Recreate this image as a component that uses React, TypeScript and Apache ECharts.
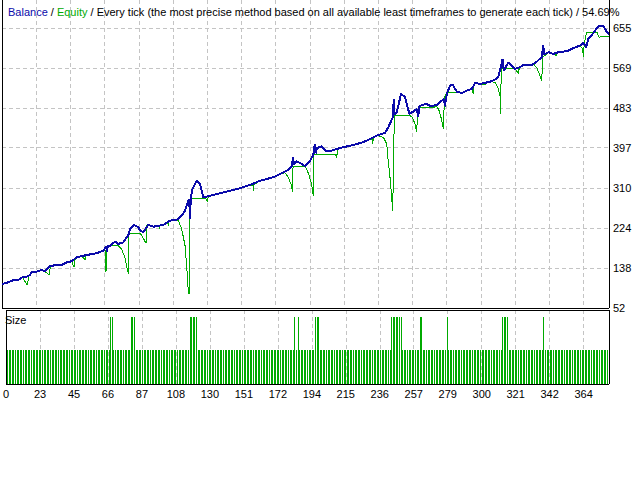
import React, { useEffect, useRef } from "react";
import * as echarts from "echarts";

const BLUE = "#0a0aaa";
const GREEN = "#00aa00";
const GRID_GRAY = "#c4c4c4";
const FONT = "'Liberation Sans', Arial, sans-serif";

const TITLE_BALANCE = "Balance";
const TITLE_EQUITY = "Equity";
const TITLE_REST = " / Every tick (the most precise method based on all available least timeframes to generate each tick) / 54.69%";
const SIZE_LABEL = "Size";

const Y_TICKS = [52, 138, 224, 310, 397, 483, 569, 655];
const X_TICK_LABELS = [0, 23, 45, 66, 87, 108, 130, 151, 172, 194, 215, 236, 257, 279, 300, 321, 342, 364];

// balance curve: [trade number, value]
const BALANCE: [number, number][] = [
  [0, 104], [3, 106], [7, 112], [10, 112], [13, 119], [15, 119], [17.5, 123], [18.6, 130], [21.7, 130],
  [24.9, 134.5], [26.9, 130.5], [30.1, 143], [37.4, 144.6], [40.5, 150.4], [43.6, 152.6], [46.8, 161.2],
  [53, 166], [59.3, 170], [63.4, 175.4], [65.4, 185], [65.8, 172], [66.2, 185], [67.6, 186], [70.8, 195],
  [72.8, 190], [76, 193.5], [79.1, 209], [80.2, 222], [82.8, 230.7], [85.3, 225.8], [86.4, 218.5],
  [88.5, 215], [91.6, 230.7], [94.7, 227], [101, 230.7], [105.2, 240], [109.4, 242], [112.5, 251],
  [114.6, 261.5], [116, 276], [117.2, 287], [117.7, 243], [118.2, 290], [119.2, 308], [121.9, 326],
  [124, 319], [126, 290.4], [129.2, 292.6], [136.5, 299], [142.8, 304.6], [149, 309.8], [155.3, 317],
  [161.6, 326], [169.9, 333.5], [174.1, 340.6], [178.3, 347.7], [181.4, 356.3], [182.2, 376.5],
  [182.8, 360], [184, 368], [186.6, 364.3], [189.7, 357.2], [192.9, 369.2], [194.9, 381.5], [195.8, 405],
  [196.3, 385], [197.1, 396], [200.2, 400], [202.3, 391], [206.4, 391], [209.6, 394.4], [213.7, 398],
  [220, 403], [226.2, 409], [231.5, 417.5], [234.6, 423], [239.8, 429], [241.9, 441], [244.6, 462.7],
  [245.3, 502], [245.8, 468], [247.2, 473.5], [249.8, 513], [252.3, 506], [255, 470], [257.5, 475],
  [259.7, 480.6], [260.5, 462.7], [261.2, 485], [262.8, 489], [265.9, 491.3], [268.4, 486.4],
  [272.2, 489], [275.3, 498.5], [276.8, 502], [277.2, 486], [278.5, 513], [280.5, 530.7], [282.2, 532.3],
  [283.7, 523.6], [284.7, 517.8], [287.9, 515], [291, 520], [294.1, 523.6], [296.2, 536.6],
  [299.3, 534.4], [302.4, 536.6], [305.6, 539.4], [308.7, 543.7], [310.8, 551], [312.3, 570.4],
  [313.3, 588], [314.2, 563], [317, 581], [319.2, 573.8], [321.2, 566.7], [324.4, 570.4], [326.4, 575.3],
  [331.7, 575.3], [334.8, 582.4], [337.9, 592], [338.8, 617], [339.4, 598], [342.1, 602.7], [345.2, 599],
  [348.3, 602.7], [351.5, 604], [354.6, 606], [357.7, 611.3], [361.9, 617], [364, 622.7], [365.7, 613.5],
  [367.1, 631.3], [370.3, 644.2], [373.4, 658.7], [376.5, 658.7], [378.2, 649], [380, 640],
];

// equity curve: [trade number, value]
const EQUITY: [number, number][] = [
  [0, 104], [3, 106], [7, 112], [10, 112], [13, 117], [15.8, 101.5], [17.1, 125], [17.5, 123], [18.6, 130],
  [21.7, 130], [24.9, 134.5], [26.9, 130.5], [29.8, 123], [30.2, 143], [37.4, 144.6], [40.5, 150.4],
  [43.6, 152.6], [45.1, 139.6], [45.5, 155], [46.8, 161.2], [50, 163], [52, 156], [52.5, 166],
  [59.3, 170], [63.4, 175.4], [64.6, 176], [65.1, 129], [65.5, 185], [66.6, 186], [72.8, 186],
  [75, 178], [77, 160], [79.1, 125], [79.3, 209], [80.2, 213], [86.4, 213], [88, 205], [90.2, 191],
  [90.5, 230.7], [94.7, 227], [98.3, 228], [98.5, 222], [98.8, 229], [101, 230.7], [104, 234],
  [104.1, 229], [104.5, 237], [105.2, 240], [109.4, 242], [110.4, 240], [112.5, 222], [114.6, 186],
  [115.6, 143], [116.7, 84], [117.5, 84], [117.7, 286.7], [128, 286.7], [128.6, 281], [129.2, 292.6],
  [136.5, 299], [142.8, 304.6], [149, 309.8], [155.3, 317], [157.2, 315], [157.4, 303], [157.7, 317],
  [161.6, 326], [169.9, 333.5], [174.1, 340.6], [177.2, 343], [179, 335], [181, 318], [182, 301],
  [182.2, 357], [184.5, 357.2], [189.7, 357.2], [190.8, 351], [192.5, 335], [194, 315], [194.9, 293],
  [195.3, 382], [206.4, 382], [208.5, 382], [209.6, 376.5], [210, 394], [213.7, 398], [220, 403],
  [226.2, 409], [231.5, 417.5], [232.1, 405], [232.5, 419], [234.6, 423], [236.7, 422], [239, 418],
  [240.9, 405], [241.3, 384], [243, 330], [244.6, 261.5], [245.6, 466], [255.5, 466], [257, 462],
  [258.5, 448], [259.7, 430], [260, 470], [261.5, 484], [270.1, 484], [272.2, 486], [273.5, 478],
  [275, 460], [276.3, 437.5], [277, 507], [278.5, 515], [283.7, 515], [287.9, 515], [291, 520],
  [294.1, 523.6], [295, 513], [295.4, 530], [296.2, 536.6], [299.3, 534.4], [302.4, 532], [302.8, 536.6],
  [305.6, 539.4], [308.7, 538], [310.5, 525], [311.8, 509], [312.2, 470], [312.5, 566.7], [316, 566.7],
  [321.2, 566.7], [323.4, 556], [323.8, 570], [326.4, 575.3], [331.7, 575.3], [332.7, 577.5], [335, 568],
  [337, 550], [337.9, 540], [338.4, 591], [342.1, 602.7], [345.2, 599], [347.3, 595.3], [347.6, 602],
  [351.5, 604], [354.6, 606], [357.7, 611.3], [361.9, 617], [363.5, 610], [364, 592], [364.5, 622.7],
  [366.1, 645.7], [372.4, 645.7], [374, 633], [374.5, 637], [380, 637],
];

const TRADE_COUNT = 379;
const BASE_LOT = 0.1;
const BIG_LOT = 0.2;
const BIG_LOT_TRADES = [66, 67, 79, 80, 81, 116, 117, 118, 119, 120, 182, 184, 195, 196, 197, 243, 244, 245, 246, 247, 248, 249, 261, 262, 278, 313, 314, 315, 316, 339];

const X_MAX = 380;

export default function App() {
  const ref = useRef<HTMLDivElement>(null);

  useEffect(() => {
    if (!ref.current) return;
    const chart = echarts.init(ref.current, undefined, { renderer: "svg" });

    const lastLabel = X_TICK_LABELS[X_TICK_LABELS.length - 1];
    const steps = X_TICK_LABELS.length - 1;
    const xTickPos = X_TICK_LABELS.map((_, k) => (k * lastLabel) / steps);
    const xLabel = (v: number) => String(X_TICK_LABELS[Math.round((v * steps) / lastLabel)]);

    const sizes: [number, number][] = [];
    for (let t = 1; t <= TRADE_COUNT; t++) {
      sizes.push([t, BIG_LOT_TRADES.includes(t) ? BIG_LOT : BASE_LOT]);
    }

    const dashed = { color: GRID_GRAY, width: 1, type: [4, 3] as number[] };
    const frameLine = { show: true, onZero: false, lineStyle: { color: "#000", width: 1 } };
    const frameOnly = {
      axisLine: frameLine,
      axisTick: { show: false },
      axisLabel: { show: false },
      splitLine: { show: false },
    };

    chart.setOption({
      animation: false,
      backgroundColor: "#ffffff",
      title: {
        left: 3,
        top: 1,
        text: `{b|${TITLE_BALANCE}} / {g|${TITLE_EQUITY}}${TITLE_REST}`,
        textStyle: {
          fontSize: 11,
          fontWeight: "normal",
          color: "#000",
          fontFamily: FONT,
          rich: {
            b: { color: BLUE, fontSize: 11, fontFamily: FONT },
            g: { color: GREEN, fontSize: 11, fontFamily: FONT },
          },
        },
      },
      graphic: [
        {
          type: "text",
          left: 5,
          top: 314,
          z: 10,
          style: { text: SIZE_LABEL, fill: "#000", fontSize: 11, fontFamily: FONT },
        },
      ],
      grid: [
        { left: 2, right: 31, top: 0, height: 308, show: false },
        { left: 2, right: 31, top: 310, height: 74, show: false },
      ],
      xAxis: [
        {
          type: "value",
          gridIndex: 0,
          min: 0,
          max: X_MAX,
          position: "bottom",
          axisLine: frameLine,
          axisTick: { show: false, customValues: xTickPos },
          axisLabel: { show: false, customValues: xTickPos },
          splitLine: { show: true, lineStyle: dashed },
        },
        {
          type: "value",
          gridIndex: 1,
          min: 0,
          max: X_MAX,
          position: "bottom",
          axisLine: frameLine,
          axisTick: { show: false, customValues: xTickPos },
          axisLabel: {
            show: true,
            customValues: xTickPos,
            formatter: xLabel,
            margin: 4,
            color: "#000",
            fontSize: 11,
            fontFamily: FONT,
          },
          splitLine: { show: true, lineStyle: dashed },
        },
        { type: "value", gridIndex: 1, min: 0, max: X_MAX, position: "top", ...frameOnly },
      ],
      yAxis: [
        {
          type: "value",
          gridIndex: 0,
          min: 52,
          max: 715,
          position: "right",
          axisLine: frameLine,
          axisTick: { show: false, customValues: Y_TICKS },
          axisLabel: {
            customValues: Y_TICKS,
            formatter: (v: number) => String(Math.round(v)),
            margin: 4,
            color: "#000",
            fontSize: 11,
            fontFamily: FONT,
            padding: [4, 0, 0, 0],
          },
          splitLine: { show: true, lineStyle: dashed },
        },
        { type: "value", gridIndex: 0, min: 52, max: 715, position: "left", ...frameOnly },
        { type: "value", gridIndex: 1, min: 0, max: 0.22, position: "left", ...frameOnly },
        { type: "value", gridIndex: 1, min: 0, max: 0.22, position: "right", ...frameOnly },
      ],
      series: [
        {
          type: "line",
          name: "Equity",
          xAxisIndex: 0,
          yAxisIndex: 0,
          data: EQUITY,
          symbol: "none",
          showSymbol: false,
          lineStyle: { color: GREEN, width: 1 },
          z: 2,
          silent: true,
        },
        {
          type: "line",
          name: "Balance",
          xAxisIndex: 0,
          yAxisIndex: 0,
          data: BALANCE,
          symbol: "none",
          showSymbol: false,
          lineStyle: { color: BLUE, width: 2 },
          z: 3,
          silent: true,
        },
        {
          type: "bar",
          name: "Size",
          xAxisIndex: 1,
          yAxisIndex: 2,
          data: sizes,
          barWidth: 1,
          itemStyle: { color: GREEN },
          z: 2,
          silent: true,
        },
      ],
    });

    return () => chart.dispose();
  }, []);

  return (
    <>
      <style>{`.mt-chart svg path { shape-rendering: crispEdges; }`}</style>
      <div
        ref={ref}
        className="mt-chart"
        style={{ position: "fixed", left: 0, top: 0, width: 640, height: 480, background: "#fff" }}
      />
    </>
  );
}
